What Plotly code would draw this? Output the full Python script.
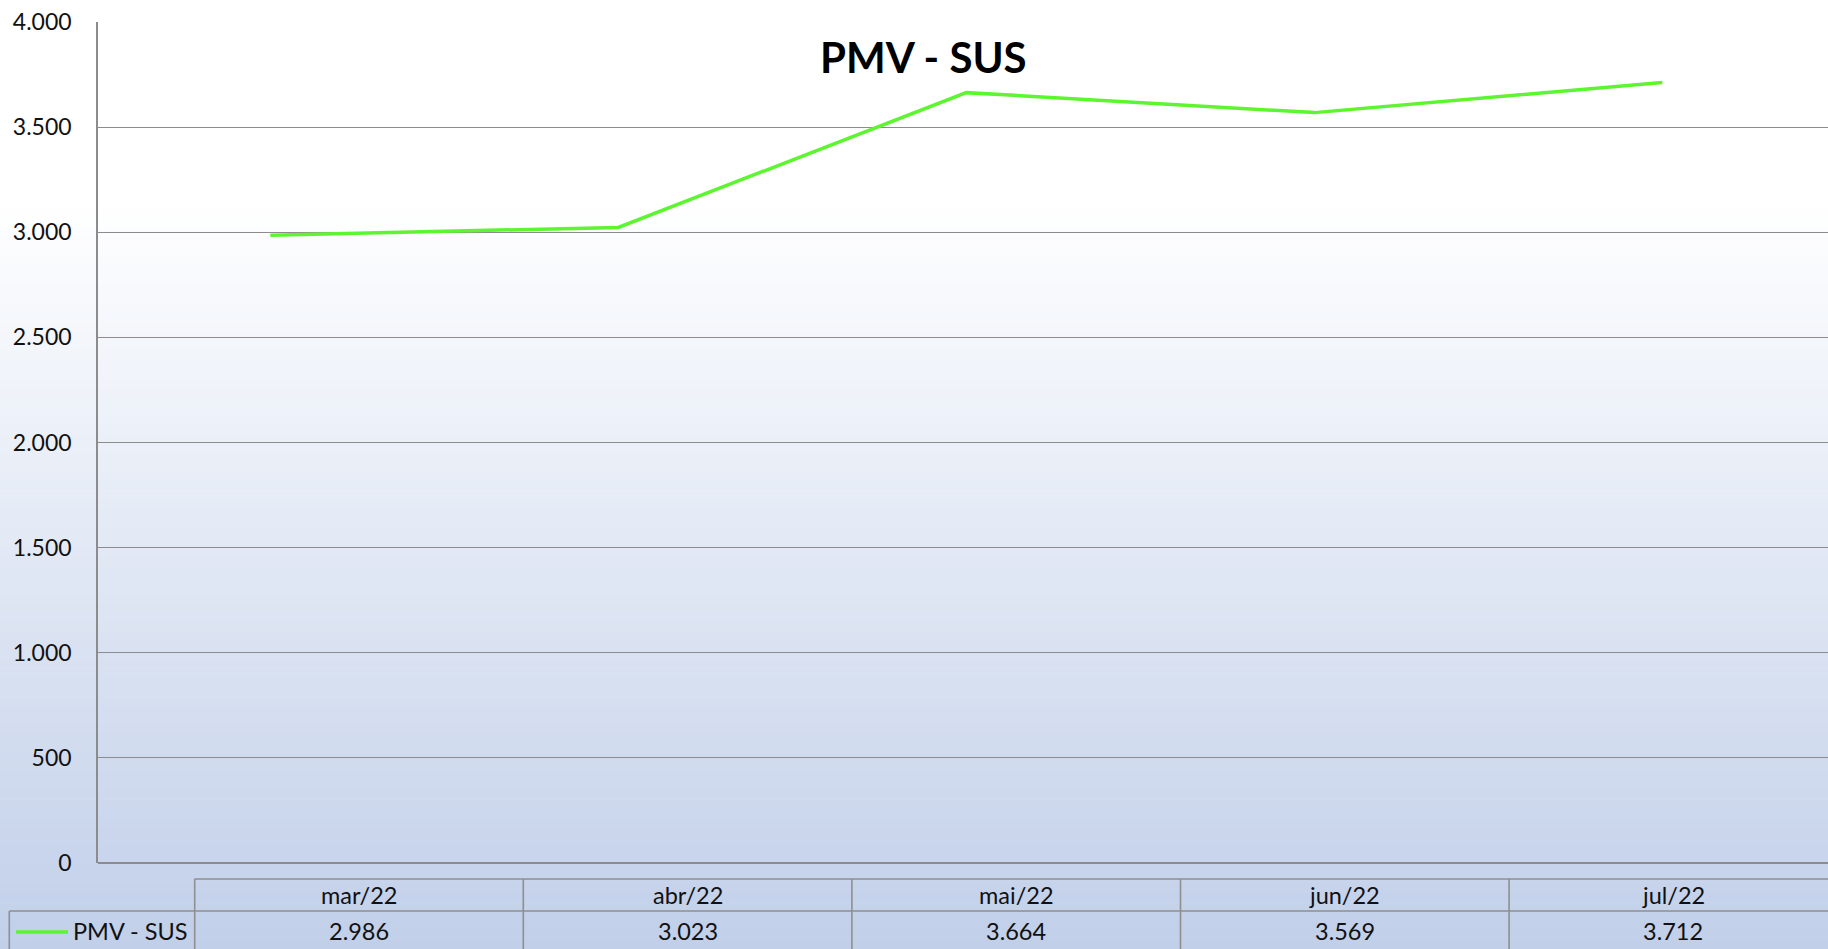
import plotly.graph_objects as go

# ---- data ----
categories = ["mar/22", "abr/22", "mai/22", "jun/22", "jul/22"]
series_name = "PMV - SUS"
values = [2986, 3023, 3664, 3569, 3712]
y_ticks = [0, 500, 1000, 1500, 2000, 2500, 3000, 3500, 4000]
title_text = "PMV - SUS"

# ---- layout geometry (pixels) ----
W, H = 1828, 949
L, R, T, B = 98, 0, 22, 86
PW = W - L - R
PH = H - T - B
FONT = "Lato"
GRID = "#8c8c8c"
LINE_COLOR = "#5CF52F"
TXT = 23.5


def px_x(px):
    return (px - L) / PW


def px_y(py):
    return (H - B - py) / PH


def fmt(v):
    return f"{v:,}".replace(",", ".")


fig = go.Figure()
fig.add_trace(go.Scatter(
    x=list(range(len(categories))), y=values, mode="lines",
    name=series_name, line=dict(color=LINE_COLOR, width=3.5),
    hovertext=categories, showlegend=False,
))

shapes = []
# background gradient (white -> light blue)
top_c = (255, 255, 255)
bot_c = (193, 207, 233)
g_start, g_end = 200, H
n = 80
shapes.append(dict(type="rect", xref="paper", yref="paper", layer="below",
                   x0=px_x(-5), x1=px_x(W + 5), y0=px_y(g_start), y1=px_y(-5),
                   fillcolor="white", line=dict(width=0)))
for i in range(n):
    y0 = g_start + (g_end - g_start) * i / n
    y1 = g_start + (g_end - g_start) * (i + 1) / n + 0.6
    t = (i + 0.5) / n
    c = tuple(round(top_c[k] + (bot_c[k] - top_c[k]) * t) for k in range(3))
    shapes.append(dict(type="rect", xref="paper", yref="paper", layer="below",
                       x0=px_x(-5), x1=px_x(W + 5), y0=px_y(y1), y1=px_y(y0),
                       fillcolor=f"rgb{c}", line=dict(width=0)))

# data table below plot
col_left = 194.7
col_w = 328.6
row1_top, row1_bot, row2_bot = 879, 911, H + 5
tcol = "#8f8f8f"
tw = 1.6
shapes.append(dict(type="line", xref="paper", yref="paper", x0=px_x(col_left), x1=px_x(W + 5),
                   y0=px_y(row1_top), y1=px_y(row1_top), line=dict(color=tcol, width=tw)))
shapes.append(dict(type="line", xref="paper", yref="paper", x0=px_x(9.3), x1=px_x(W + 5),
                   y0=px_y(row1_bot), y1=px_y(row1_bot), line=dict(color=tcol, width=tw)))
shapes.append(dict(type="line", xref="paper", yref="paper", x0=px_x(9.3), x1=px_x(9.3),
                   y0=px_y(row1_bot), y1=px_y(row2_bot), line=dict(color=tcol, width=tw)))
for i in range(len(categories) + 1):
    xx = col_left + col_w * i
    shapes.append(dict(type="line", xref="paper", yref="paper", x0=px_x(xx), x1=px_x(xx),
                       y0=px_y(row1_top), y1=px_y(row2_bot), line=dict(color=tcol, width=tw)))
# legend key line
shapes.append(dict(type="line", xref="paper", yref="paper", x0=px_x(16), x1=px_x(68),
                   y0=px_y(932), y1=px_y(932), line=dict(color=LINE_COLOR, width=3.5)))

annotations = []
for i, (c, v) in enumerate(zip(categories, values)):
    cx = col_left + col_w * (i + 0.5)
    annotations.append(dict(text=c, xref="paper", yref="paper", x=px_x(cx), y=px_y(895),
                            xanchor="center", yanchor="middle", showarrow=False,
                            font=dict(family=FONT, size=TXT, color="#111111")))
    annotations.append(dict(text=fmt(v), xref="paper", yref="paper", x=px_x(cx), y=px_y(931),
                            xanchor="center", yanchor="middle", showarrow=False,
                            font=dict(family=FONT, size=TXT, color="#111111")))
annotations.append(dict(text=series_name, xref="paper", yref="paper", x=px_x(71), y=px_y(931),
                        xanchor="left", yanchor="middle", showarrow=False,
                        font=dict(family=FONT, size=TXT, color="#111111")))
annotations.append(dict(text=f"<b>{title_text}</b>", xref="paper", yref="paper",
                        x=px_x(923), y=px_y(57), xanchor="center", yanchor="middle",
                        showarrow=False, font=dict(family=FONT, size=42, color="#000000")))

fig.update_layout(
    width=W, height=H,
    margin=dict(l=L, r=R, t=T, b=B, pad=0),
    paper_bgcolor="white",
    plot_bgcolor="rgba(0,0,0,0)",
    separators=",.",
    shapes=shapes,
    annotations=annotations,
    showlegend=False,
    xaxis=dict(range=[-0.495, 4.476], showgrid=False, zeroline=False, showticklabels=False,
               showline=False, fixedrange=True),
    yaxis=dict(range=[0, 4000], tickvals=y_ticks, ticktext=[fmt(v) for v in y_ticks],
               showgrid=True, gridcolor=GRID, gridwidth=1.3,
               zeroline=True, zerolinecolor=GRID, zerolinewidth=1.6,
               showline=True, linecolor=GRID, linewidth=1.6,
               ticks="", ticklabelstandoff=20,
               tickfont=dict(family=FONT, size=23, color="#111111")),
)

fig.write_html(
    "out.html",
    config={"displayModeBar": False},
    post_script="document.body.style.margin='0';document.body.style.overflow='hidden';",
)
